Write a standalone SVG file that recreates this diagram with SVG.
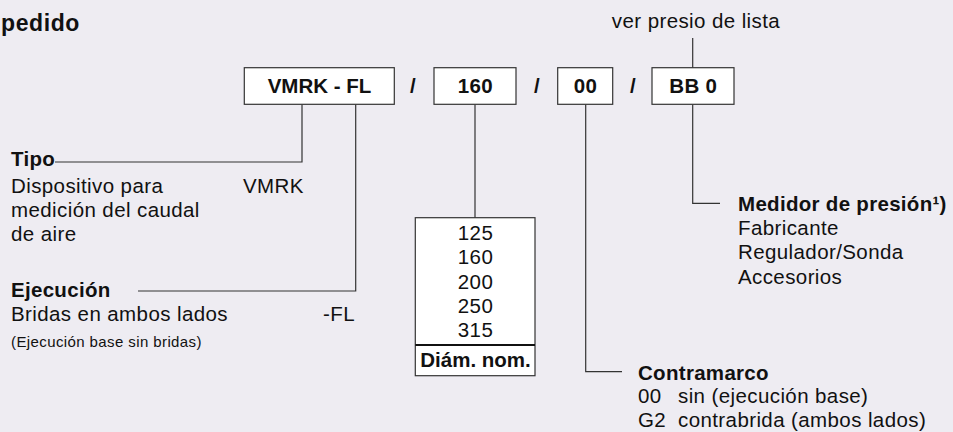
<svg xmlns="http://www.w3.org/2000/svg" width="953" height="432" viewBox="0 0 953 432">
<style>
text{font-family:"Liberation Sans",Arial,sans-serif;fill:#111;}
.t{font-size:20.5px;letter-spacing:0.4px;}
.b{font-size:20.5px;font-weight:bold;letter-spacing:0.3px;}
.s{font-size:15px;letter-spacing:0.4px;}
.m{text-anchor:middle;}
.box{fill:#fff;stroke:#333;stroke-width:1.2;}
.ln{fill:none;stroke:#333;stroke-width:1.2;}
</style>
<rect width="953" height="432" fill="#eeecf2"/>
<text x="1" y="31" style="font-size:23px;font-weight:bold;letter-spacing:0.6px">pedido</text>
<g id="connectors">
<path class="ln" d="M302,104.5V162H55"/>
<path class="ln" d="M355.7,104.5V291H138"/>
<path class="ln" d="M475,104.5V218"/>
<path class="ln" d="M585.7,104.5V371.7H622"/>
<path class="ln" d="M692.7,104.5V203.3H720"/>
<path class="ln" d="M692.7,38V68"/>
</g>
<g id="code-vmrk"><rect class="box" x="244.3" y="67.7" width="150" height="36.6"/><text class="b m" x="319.5" y="93" style="letter-spacing:0">VMRK - FL</text></g>
<text class="b m" x="413" y="93">/</text>
<g id="code-size"><rect class="box" x="434" y="67.7" width="82" height="36.6"/><text class="b m" x="475.3" y="93">160</text></g>
<text class="b m" x="537" y="93">/</text>
<g id="code-frame"><rect class="box" x="557.7" y="67.7" width="55" height="36.6"/><text class="b m" x="585.5" y="93">00</text></g>
<text class="b m" x="633" y="93">/</text>
<g id="code-bb"><rect class="box" x="652" y="67.7" width="82" height="36.6"/><text class="b m" x="693.3" y="93">BB 0</text></g>
<g id="price"><text class="t m" x="696" y="28">ver presio de lista</text></g>
<g id="tipo">
<text class="b" x="11" y="166">Tipo</text>
<text class="t" x="11" y="193">Dispositivo para</text>
<text class="t" x="11" y="217">medición del caudal</text>
<text class="t" x="11" y="241">de aire</text>
<text class="t" x="243" y="193">VMRK</text>
</g>
<g id="ejecucion">
<text class="b" x="11" y="297">Ejecución</text>
<text class="t" x="11" y="321">Bridas en ambos lados</text>
<text class="t" x="323" y="321">-FL</text>
<text class="s" x="11" y="347">(Ejecución base sin bridas)</text>
</g>
<g id="diametro">
<rect class="box" x="415.3" y="217.7" width="119.7" height="158"/>
<line x1="415.3" y1="345" x2="535" y2="345" stroke="#111" stroke-width="1.8"/>
<text class="t m" x="475.5" y="240">125</text>
<text class="t m" x="475.5" y="264.3">160</text>
<text class="t m" x="475.5" y="288.6">200</text>
<text class="t m" x="475.5" y="313">250</text>
<text class="t m" x="475.5" y="337.3">315</text>
<text class="b m" x="475.5" y="367" style="letter-spacing:0">Diám. nom.</text>
</g>
<g id="medidor">
<text class="b" x="738" y="211">Medidor de presión¹)</text>
<text class="t" x="738" y="235">Fabricante</text>
<text class="t" x="738" y="259.3">Regulador/Sonda</text>
<text class="t" x="738" y="283.6">Accesorios</text>
</g>
<g id="contramarco">
<text class="b" x="638" y="380">Contramarco</text>
<text class="t" x="638" y="403.3">00</text>
<text class="t" x="678" y="403.3">sin (ejecución base)</text>
<text class="t" x="638" y="427">G2</text>
<text class="t" x="678" y="427">contrabrida (ambos lados)</text>
</g>
</svg>
